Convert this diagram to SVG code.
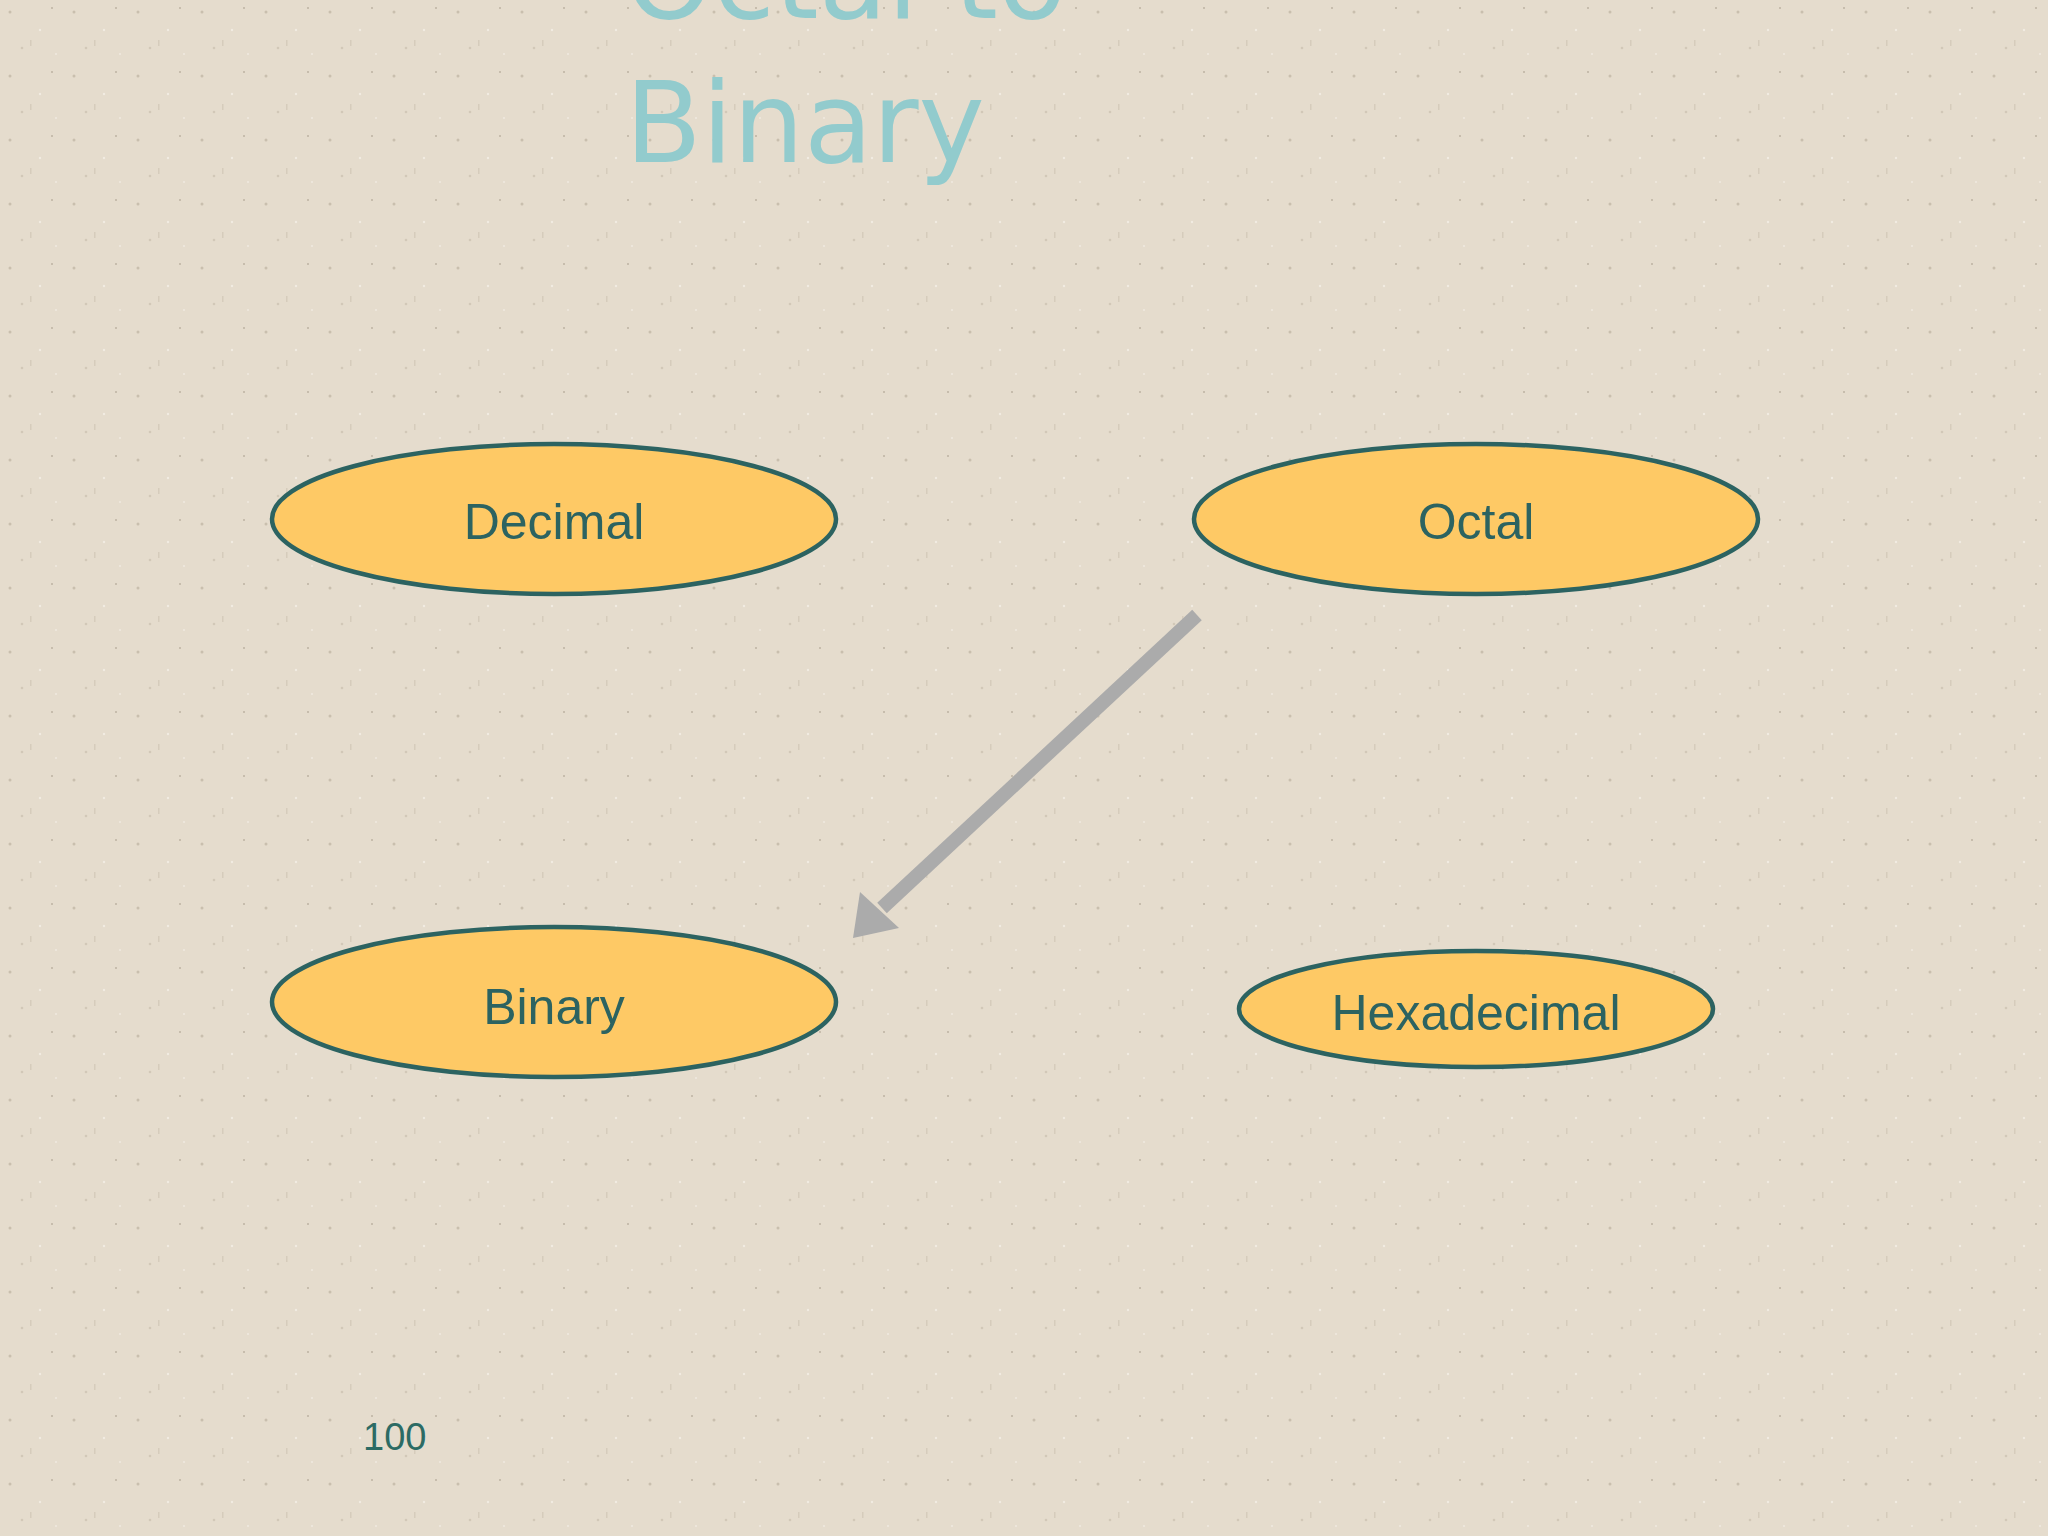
<svg xmlns="http://www.w3.org/2000/svg" width="2048" height="1536" viewBox="0 0 2048 1536">
  <style>
    .node ellipse { fill: #FEC965; stroke: #2C6361; stroke-width: 4.5; }
    .node text { font-family: "Liberation Sans", Arial, sans-serif; font-size: 50px; fill: #2C6361; text-anchor: middle; }
    .title { font-family: "DejaVu Sans", Verdana, sans-serif; font-size: 112px; fill: #92CBCD; }
    .pagenum { font-family: "Liberation Sans", Arial, sans-serif; font-size: 38px; fill: #2C6B64; }
  </style>
  <defs>
    <pattern id="tex" width="64" height="64" patternUnits="userSpaceOnUse">
      <rect width="64" height="64" fill="#E5DCCD"/>
      <circle cx="10" cy="12" r="1.5" fill="#C9BFAE"/>
      <circle cx="40" cy="30" r="1.2" fill="#F2ECE2"/>
      <circle cx="52" cy="8" r="1" fill="#BDB3A3"/>
      <circle cx="22" cy="48" r="1.3" fill="#D2C8B8"/>
      <circle cx="56" cy="54" r="1" fill="#F0EAE0"/>
      <rect x="30" y="40" width="1.5" height="6" fill="#D6CCBC"/>
    </pattern>
  </defs>
  <rect width="2048" height="1536" fill="url(#tex)"/>

  <g id="title">
    <text class="title" x="625" y="18">Octal to</text>
    <text class="title" x="625" y="162">Binary</text>
  </g>

  <g id="connectors">
    <line x1="1197" y1="615" x2="882" y2="908" stroke="#ABABAB" stroke-width="14"/>
    <polygon points="853,938 860,892 899,928" fill="#ABABAB"/>
  </g>

  <g id="node-decimal" class="node">
    <ellipse cx="554" cy="519" rx="282" ry="75"/>
    <text x="554" y="539">Decimal</text>
  </g>
  <g id="node-octal" class="node">
    <ellipse cx="1476" cy="519" rx="282" ry="75"/>
    <text x="1476" y="539">Octal</text>
  </g>
  <g id="node-binary" class="node">
    <ellipse cx="554" cy="1002" rx="282" ry="75"/>
    <text x="554" y="1024">Binary</text>
  </g>
  <g id="node-hexadecimal" class="node">
    <ellipse cx="1476" cy="1009" rx="237" ry="58"/>
    <text x="1476" y="1030">Hexadecimal</text>
  </g>

  <text class="pagenum" x="363" y="1450">100</text>
</svg>
